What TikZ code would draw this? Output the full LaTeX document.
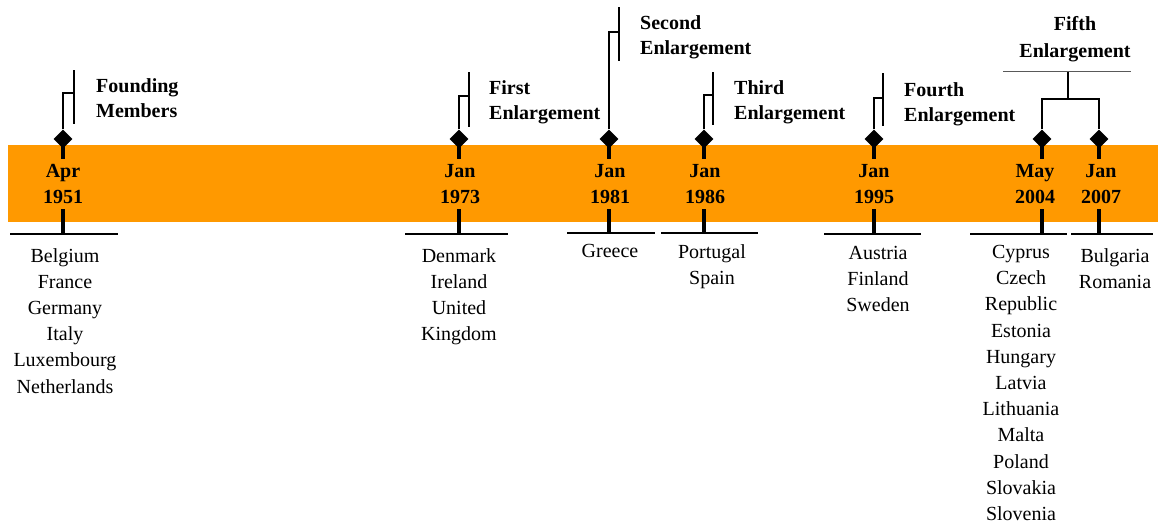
\documentclass[tikz,border=0pt]{standalone}
\usepackage{fontspec}
\setmainfont{Liberation Serif}
\usetikzlibrary{calc,positioning,shapes.geometric}
\definecolor{euorange}{RGB}{255,153,0}

\begin{document}
\begin{tikzpicture}[x=1pt,y=-1pt,
    band/.style={rectangle,fill=euorange,anchor=north west,minimum width=1150pt,minimum height=77pt,inner sep=0},
    event/.style={diamond,fill=black,minimum width=19pt,minimum height=19pt,inner sep=0},
    date/.style={fill=euorange,align=center,font=\fontsize{20}{25.5}\selectfont\bfseries,inner xsep=0,inner ysep=6pt},
    title/.style={align=left,anchor=north west,inner sep=0,font=\fontsize{20}{25.5}\selectfont\bfseries},
    members/.style={align=center,anchor=north,inner sep=0,font=\fontsize{20}{26.2}\selectfont},
    stem/.style={line width=4pt},
    link/.style={line width=2pt},
    base/.style={line width=1.8pt}
    ]
  \useasboundingbox (0,0) rectangle (1158,523);

  \node(band) [band] at (8,145) {};

  \node(dia1951) [event] at (63,139) {};
  \node(dia1973) [event] at (459,139) {};
  \node(dia1981) [event] at (609,139) {};
  \node(dia1986) [event] at (704,139) {};
  \node(dia1995) [event] at (874,139) {};
  \node(dia2004) [event] at (1042,139) {};
  \node(dia2007) [event] at (1099,139) {};

  \coordinate(foot1951) at (63,234);
  \coordinate(foot1973) at (459,234);
  \coordinate(foot1981) at (609,233);
  \coordinate(foot1986) at (704,233);
  \coordinate(foot1995) at (874,234);
  \coordinate(foot2004) at (1042,234);
  \coordinate(foot2007) at (1099,234);

  \draw[stem] (dia1951.center) -- (foot1951);
  \draw[stem] (dia1973.center) -- (foot1973);
  \draw[stem] (dia1981.center) -- (foot1981);
  \draw[stem] (dia1986.center) -- (foot1986);
  \draw[stem] (dia1995.center) -- (foot1995);
  \draw[stem] (dia2004.center) -- (foot2004);
  \draw[stem] (dia2007.center) -- (foot2007);

  \node(date1951) [date] at (63,184) {Apr\\1951};
  \node(date1973) [date] at (460,184) {Jan\\1973};
  \node(date1981) [date] at (610,184) {Jan\\1981};
  \node(date1986) [date] at (705,184) {Jan\\1986};
  \node(date1995) [date] at (874,184) {Jan\\1995};
  \node(date2004) [date] at (1035,184) {May\\2004};
  \node(date2007) [date] at (1101,184) {Jan\\2007};

  \draw[base] ($(foot1951)+(-53,0)$) -- ($(foot1951)+(55,0)$);
  \draw[base] ($(foot1973)+(-54,0)$) -- ($(foot1973)+(49,0)$);
  \draw[base] ($(foot1981)+(-42,0)$) -- ($(foot1981)+(46,0)$);
  \draw[base] ($(foot1986)+(-43,0)$) -- ($(foot1986)+(54,0)$);
  \draw[base] ($(foot1995)+(-50,0)$) -- ($(foot1995)+(47,0)$);
  \draw[base] ($(foot2004)+(-72,0)$) -- ($(foot2004)+(25,0)$);
  \draw[base] ($(foot2007)+(-28,0)$) -- ($(foot2007)+(54,0)$);

  \coordinate(knee1951) at (74,93);
  \coordinate(knee1973) at (469,96);
  \coordinate(knee1981) at (619,32);
  \coordinate(knee1986) at (713,95);
  \coordinate(knee1995) at (883,98);
  \draw[link] (74,70) -- (74,124);
  \draw[link] (469,72) -- (469,127);
  \draw[link] (619,7) -- (619,61);
  \draw[link] (713,72) -- (713,125);
  \draw[link] (883,73) -- (883,126);
  \draw[link] (dia1951) |- (knee1951);
  \draw[link] (dia1973) |- (knee1973);
  \draw[link] (dia1981) |- (knee1981);
  \draw[link] (dia1986) |- (knee1986);
  \draw[link] (dia1995) |- (knee1995);

  \coordinate(fork) at (1068,99);
  \coordinate(forktop) at (1068,71);
  \draw[link] (dia2004) |- (fork) -| (dia2007);
  \draw[link] (fork) -- (forktop);
  \draw[gray!70!black,line width=1pt] (1003,71) -- (1131,71);

  \node(lbl1951) [title] at (96,78) {Founding\\Members};
  \node(lbl1973) [title] at (489,80) {First\\Enlargement};
  \node(lbl1981) [title] at (640,15) {Second\\Enlargement};
  \node(lbl1986) [title] at (734,80) {Third\\Enlargement};
  \node(lbl1995) [title] at (904,82) {Fourth\\Enlargement};
  \node(lbl2004) [title,align=center,anchor=north,font=\fontsize{20}{27}\selectfont\bfseries] at (1075,16) {Fifth\\Enlargement};

  \node(list1951) [members] at (65,248) {Belgium\\France\\Germany\\Italy\\Luxembourg\\Netherlands};
  \node(list1973) [members] at (459,248) {Denmark\\Ireland\\United\\Kingdom};
  \node(list1981) [members] at (610,244) {Greece};
  \node(list1986) [members] at (712,244) {Portugal\\Spain};
  \node(list1995) [members] at (878,246) {Austria\\Finland\\Sweden};
  \node(list2004) [members] at (1021,245) {Cyprus\\Czech\\Republic\\Estonia\\Hungary\\Latvia\\Lithuania\\Malta\\Poland\\Slovakia\\Slovenia};
  \node(list2007) [members] at (1115,248) {Bulgaria\\Romania};

\end{tikzpicture}
\end{document}
